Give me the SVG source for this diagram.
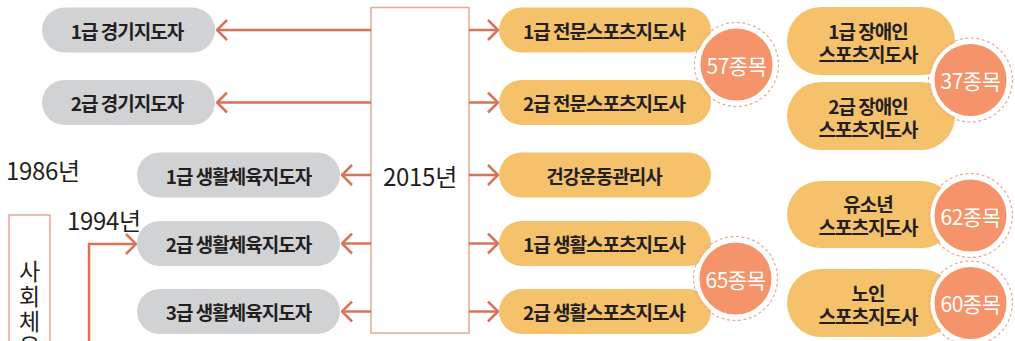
<svg xmlns="http://www.w3.org/2000/svg" width="1015" height="341" viewBox="0 0 1015 341">
<defs>
<style>
.g{fill:#d1d2d4}
.o{fill:#f5c16b}
.t{font-family:"Noto Sans CJK KR","Noto Sans",sans-serif;font-size:19px;font-weight:700;fill:#231f20;text-anchor:middle;dominant-baseline:central;letter-spacing:-1px}
.y{font-family:"Noto Sans CJK KR","Noto Sans",sans-serif;font-size:24px;font-weight:400;fill:#231f20;letter-spacing:-0.3px}
.c{fill:#f5936a;stroke:#ffffff;stroke-width:4}
.d{fill:none;stroke:#f0a592;stroke-width:1.2;stroke-dasharray:3 2.5}
.ct{font-family:"Noto Sans CJK KR","Noto Sans",sans-serif;font-size:21px;font-weight:400;fill:#ffffff;text-anchor:middle;dominant-baseline:central;letter-spacing:-0.5px}
.box{fill:#ffffff;stroke:#e9a796;stroke-width:1.5}
.ln{fill:none;stroke:#da7159;stroke-width:2.5}
.v{font-family:"Noto Sans CJK KR","Noto Sans",sans-serif;font-size:23px;fill:#231f20;writing-mode:vertical-rl;text-orientation:upright;letter-spacing:2px}
</style>
<marker id="ah" viewBox="0 0 12 22" refX="11" refY="11" markerWidth="12" markerHeight="22" markerUnits="userSpaceOnUse" orient="auto">
<path d="M1 1 L11 11 L1 21" fill="none" stroke="#da7159" stroke-width="2.5"/>
</marker>
</defs>
<rect width="1015" height="341" fill="#ffffff"/>

<text class="y" x="6" y="180">1986년</text>
<text class="y" x="67" y="230">1994년</text>

<g id="box-2015">
<rect class="box" x="371" y="7.5" width="98" height="325.5"/>
<text class="y" x="420" y="175" text-anchor="middle" dominant-baseline="central">2015년</text>
</g>

<g id="box-social">
<rect class="box" x="9" y="215" width="41" height="140"/>
<text class="v" x="29.5" y="260">사회체육</text>
</g>

<g id="connectors">
<line class="ln" x1="371" y1="30" x2="217" y2="30" marker-end="url(#ah)"/>
<line class="ln" x1="371" y1="102.5" x2="217" y2="102.5" marker-end="url(#ah)"/>
<line class="ln" x1="371" y1="175" x2="342" y2="175" marker-end="url(#ah)"/>
<line class="ln" x1="371" y1="243.5" x2="342" y2="243.5" marker-end="url(#ah)"/>
<line class="ln" x1="371" y1="311.5" x2="342" y2="311.5" marker-end="url(#ah)"/>
<line class="ln" x1="469" y1="30" x2="498" y2="30" marker-end="url(#ah)"/>
<line class="ln" x1="469" y1="102.5" x2="498" y2="102.5" marker-end="url(#ah)"/>
<line class="ln" x1="469" y1="175" x2="498" y2="175" marker-end="url(#ah)"/>
<line class="ln" x1="469" y1="243.5" x2="498" y2="243.5" marker-end="url(#ah)"/>
<line class="ln" x1="469" y1="311.5" x2="498" y2="311.5" marker-end="url(#ah)"/>
<polyline class="ln" points="89,341 89,244 136,244" marker-end="url(#ah)"/>
</g>

<g id="n-pro1"><rect class="g" x="42" y="7.5" width="173" height="45" rx="22.5"/><text class="t" x="127" y="30">1급 경기지도자</text></g>
<g id="n-pro2"><rect class="g" x="42" y="80" width="173" height="45" rx="22.5"/><text class="t" x="127" y="102.5">2급 경기지도자</text></g>
<g id="n-life1"><rect class="g" x="137" y="152.5" width="203" height="45" rx="22.5"/><text class="t" x="238.5" y="175">1급 생활체육지도자</text></g>
<g id="n-life2"><rect class="g" x="137" y="221" width="203" height="45" rx="22.5"/><text class="t" x="238.5" y="243.5">2급 생활체육지도자</text></g>
<g id="n-life3"><rect class="g" x="137" y="289" width="203" height="45" rx="22.5"/><text class="t" x="238.5" y="311.5">3급 생활체육지도자</text></g>

<g id="n-sp1"><rect class="o" x="499" y="7.5" width="212" height="45" rx="22.5"/><text class="t" x="604" y="30">1급 전문스포츠지도사</text></g>
<g id="n-sp2"><rect class="o" x="499" y="80" width="212" height="45" rx="22.5"/><text class="t" x="604" y="102.5">2급 전문스포츠지도사</text></g>
<g id="n-health"><rect class="o" x="499" y="152.5" width="212" height="45" rx="22.5"/><text class="t" x="604" y="175">건강운동관리사</text></g>
<g id="n-ls1"><rect class="o" x="499" y="221" width="212" height="45" rx="22.5"/><text class="t" x="604" y="243.5">1급 생활스포츠지도사</text></g>
<g id="n-ls2"><rect class="o" x="499" y="289" width="212" height="45" rx="22.5"/><text class="t" x="604" y="311.5">2급 생활스포츠지도사</text></g>

<g id="n-dis1"><rect class="o" x="787" y="7" width="168" height="68" rx="34"/><text class="t" x="868" y="30">1급 장애인</text><text class="t" x="868" y="53">스포츠지도사</text></g>
<g id="n-dis2"><rect class="o" x="787" y="82" width="168" height="68" rx="34"/><text class="t" x="868" y="105">2급 장애인</text><text class="t" x="868" y="128">스포츠지도사</text></g>
<g id="n-youth"><rect class="o" x="787" y="181" width="168" height="67" rx="33.5"/><text class="t" x="868" y="203">유소년</text><text class="t" x="868" y="226">스포츠지도사</text></g>
<g id="n-senior"><rect class="o" x="787" y="269" width="168" height="68" rx="34"/><text class="t" x="868" y="292">노인</text><text class="t" x="868" y="315">스포츠지도사</text></g>

<g id="c57"><circle class="c" cx="736.5" cy="64.5" r="38"/><circle class="d" cx="736.5" cy="64.5" r="42"/><text class="ct" x="736.5" y="64.5">57종목</text></g>
<g id="c65"><circle class="c" cx="735.5" cy="278.5" r="38"/><circle class="d" cx="735.5" cy="278.5" r="42"/><text class="ct" x="735.5" y="278.5">65종목</text></g>
<g id="c37"><circle class="c" cx="970.5" cy="80" r="38"/><circle class="d" cx="970.5" cy="80" r="42"/><text class="ct" x="970.5" y="80">37종목</text></g>
<g id="c62"><circle class="c" cx="970.5" cy="215.5" r="38"/><circle class="d" cx="970.5" cy="215.5" r="42"/><text class="ct" x="970.5" y="215.5">62종목</text></g>
<g id="c60"><circle class="c" cx="970.5" cy="303" r="38"/><circle class="d" cx="970.5" cy="303" r="42"/><text class="ct" x="970.5" y="303">60종목</text></g>
</svg>
